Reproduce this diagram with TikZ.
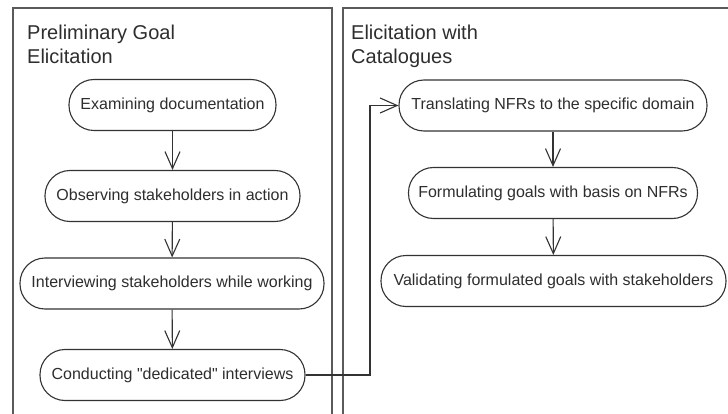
\documentclass[tikz,border=0pt]{standalone}
\usepackage{fontspec}
\setmainfont{Liberation Sans}
\usetikzlibrary{arrows.meta}
\definecolor{linec}{HTML}{333333}
\definecolor{txt}{HTML}{2E2E2E}
\definecolor{panelc}{HTML}{5A5A5A}
\tikzset{
  act/.style={draw=linec, line width=1.1pt, rounded corners=25pt, minimum height=51pt,
    inner sep=0pt, font=\fontsize{16}{19}\selectfont, text=txt},
  conn/.style={draw=linec, line width=1.1pt, -{Straight Barb[length=17pt,width=15pt]}},
  panel/.style={draw=panelc, line width=2pt},
  ptitle/.style={anchor=north west, inner sep=0pt, align=left, text=txt,
    font=\fontsize{20}{24}\selectfont}
}
\begin{document}
\begin{tikzpicture}[x=1pt,y=-1pt]
\useasboundingbox (0,0) rectangle (728,414);
\clip (0,0) rectangle (728,414);
\fill[white] (0,0) rectangle (728,414);
% panels
\draw[panel] (13,420) -- (13,8) -- (331.5,8) -- (331.5,420);
\draw[panel] (343,420) -- (343,8) -- (735,8);
\node[ptitle] (t1) at (27,24.5) {Preliminary Goal\\Elicitation};
\node[ptitle] (t2) at (351,24.5) {Elicitation with\\Catalogues};
% left activities
\node[act, minimum width=207pt] (n1) at (172.5,105) {Examining documentation};
\node[act, minimum width=255pt] (n2) at (172.5,196) {Observing stakeholders in action};
\node[act, minimum width=304pt] (n3) at (172,283.5) {Interviewing stakeholders while working};
\node[act, minimum width=265pt] (n4) at (172.5,375) {Conducting \textquotedbl dedicated\textquotedbl{} interviews};
% right activities
\node[act, minimum width=308pt] (n5) at (553,105.5) {Translating NFRs to the specific domain};
\node[act, minimum width=289pt] (n6) at (553,193) {Formulating goals with basis on NFRs};
\node[act, minimum width=345pt] (n7) at (553.5,281) {Validating formulated goals with stakeholders};
% connectors
\draw[conn] (n1) -- (n2);
\draw[conn] (n2) -- (n3);
\draw[conn] (n3) -- (n4);
\draw[conn] (n5) -- (n6);
\draw[conn] (n6) -- (n7);
\coordinate (bx) at (370,240);
\draw[conn] (n4.east) -- (n4.east -| bx) |- (n5.west);
\end{tikzpicture}
\end{document}
